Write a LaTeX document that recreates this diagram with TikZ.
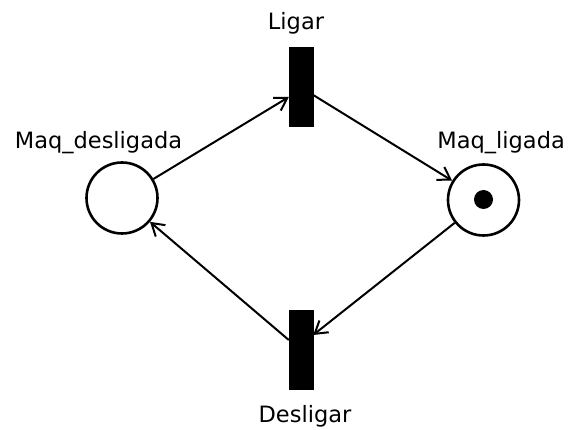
\documentclass[tikz,border=0pt]{standalone}
\usepackage{fontspec}
\setmainfont{DejaVu Sans}
\usetikzlibrary{arrows.meta}
\begin{document}
\begin{tikzpicture}[x=1pt,y=-1pt,
  place/.style={circle,draw,line width=2.6pt,minimum size=71pt,inner sep=0pt},
  trans/.style={rectangle,fill=black,draw=black,minimum width=24pt,minimum height=79pt,inner sep=0pt},
  token/.style={circle,fill=black,minimum size=19pt,inner sep=0pt},
  lbl/.style={anchor=base,font=\fontsize{22.5pt}{26pt}\selectfont,inner sep=0pt},
  arc/.style={line width=2pt,-{Straight Barb[length=12pt,width=15pt,line width=2pt]}}]
\useasboundingbox (0,0) rectangle (568,430);
\fill[white] (0,0) rectangle (568,430);
% places
\node[place] (off) at (122,198) {};
\node[place] (on) at (483.5,200) {};
\node[token] (tok) at (483.5,199.5) {};
% transitions
\node[trans] (ligar) at (301,86.5) {};
\node[trans] (desligar) at (301,350) {};
% labels
\node[lbl] (loff) at (98.5,149) {Maq\_desligada};
\node[lbl,anchor=base east] (lon) at (565,149) {Maq\_ligada};
\node[lbl] (lligar) at (296,30) {Ligar};
\node[lbl] (ldesligar) at (305,423) {Desligar};
% arcs
\draw[arc] (off) -- ([yshift=-10.5pt]ligar.west);
\draw[arc] ([yshift=-8.5pt]ligar.east) -- (on);
\draw[arc] (on) -- ([yshift=15pt]desligar.east);
\draw[arc] ([yshift=10pt]desligar.west) -- (off);
\end{tikzpicture}
\end{document}
